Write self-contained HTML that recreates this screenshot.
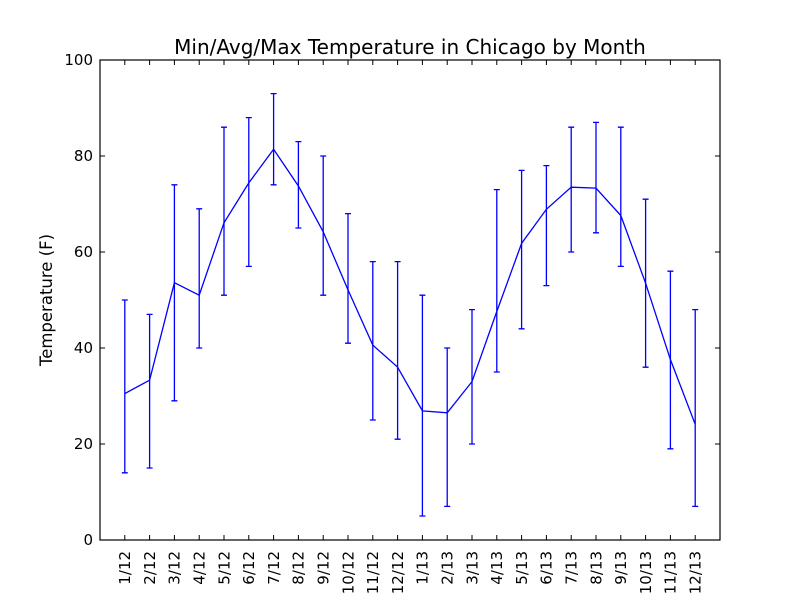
<!DOCTYPE html>
<html>
<head>
<meta charset="utf-8">
<style>
html,body{margin:0;padding:0;background:#fff;}
svg{display:block;}
text{font-family:"DejaVu Sans","Liberation Sans",sans-serif;fill:#000;}
</style>
</head>
<body>
<svg width="800" height="600" viewBox="0 0 800 600" xmlns="http://www.w3.org/2000/svg">
<rect x="0" y="0" width="800" height="600" fill="#fff"/>
<text x="410" y="54" font-size="20" text-anchor="middle">Min/Avg/Max Temperature in Chicago by Month</text>

<!-- error bars -->
<g stroke="#0000ff" stroke-width="1.3" fill="none">
<path d="M124.8 472.8V300M121.8 472.8h6M121.8 300h6"/>
<path d="M149.6 468V314.4M146.6 468h6M146.6 314.4h6"/>
<path d="M174.4 400.8V184.8M171.4 400.8h6M171.4 184.8h6"/>
<path d="M199.2 348V208.8M196.2 348h6M196.2 208.8h6"/>
<path d="M224 295.2V127.2M221 295.2h6M221 127.2h6"/>
<path d="M248.8 266.4V117.6M245.8 266.4h6M245.8 117.6h6"/>
<path d="M273.6 184.8V93.6M270.6 184.8h6M270.6 93.6h6"/>
<path d="M298.4 228V141.6M295.4 228h6M295.4 141.6h6"/>
<path d="M323.2 295.2V156M320.2 295.2h6M320.2 156h6"/>
<path d="M348 343.2V213.6M345 343.2h6M345 213.6h6"/>
<path d="M372.8 420V261.6M369.8 420h6M369.8 261.6h6"/>
<path d="M397.6 439.2V261.6M394.6 439.2h6M394.6 261.6h6"/>
<path d="M422.4 516V295.2M419.4 516h6M419.4 295.2h6"/>
<path d="M447.2 506.4V348M444.2 506.4h6M444.2 348h6"/>
<path d="M472 444V309.6M469 444h6M469 309.6h6"/>
<path d="M496.8 372V189.6M493.8 372h6M493.8 189.6h6"/>
<path d="M521.6 328.8V170.4M518.6 328.8h6M518.6 170.4h6"/>
<path d="M546.4 285.6V165.6M543.4 285.6h6M543.4 165.6h6"/>
<path d="M571.2 252V127.2M568.2 252h6M568.2 127.2h6"/>
<path d="M596 232.8V122.4M593 232.8h6M593 122.4h6"/>
<path d="M620.8 266.4V127.2M617.8 266.4h6M617.8 127.2h6"/>
<path d="M645.6 367.2V199.2M642.6 367.2h6M642.6 199.2h6"/>
<path d="M670.4 448.8V271.2M667.4 448.8h6M667.4 271.2h6"/>
<path d="M695.2 506.4V309.6M692.2 506.4h6M692.2 309.6h6"/>
</g>
<polyline fill="none" stroke="#0000ff" stroke-width="1.3" points="124.8,393.6 149.6,380.16 174.4,282.72 199.2,295.2 224,222.72 248.8,182.88 273.6,149.28 298.4,186 323.2,231.84 348,289.92 372.8,345.12 397.6,367.2 422.4,410.88 447.2,412.8 472,381.6 496.8,311.52 521.6,243.36 546.4,209.28 571.2,187.2 596,188.16 620.8,215.52 645.6,283.2 670.4,359.52 695.2,424.32"/>

<!-- frame -->
<rect x="100" y="60" width="620" height="480" fill="none" stroke="#000" stroke-width="1.2"/>

<!-- ticks -->
<g stroke="#000" stroke-width="1">
<path d="M124.8 540v-5M149.6 540v-5M174.4 540v-5M199.2 540v-5M224 540v-5M248.8 540v-5M273.6 540v-5M298.4 540v-5M323.2 540v-5M348 540v-5M372.8 540v-5M397.6 540v-5M422.4 540v-5M447.2 540v-5M472 540v-5M496.8 540v-5M521.6 540v-5M546.4 540v-5M571.2 540v-5M596 540v-5M620.8 540v-5M645.6 540v-5M670.4 540v-5M695.2 540v-5"/>
<path d="M124.8 60v5M149.6 60v5M174.4 60v5M199.2 60v5M224 60v5M248.8 60v5M273.6 60v5M298.4 60v5M323.2 60v5M348 60v5M372.8 60v5M397.6 60v5M422.4 60v5M447.2 60v5M472 60v5M496.8 60v5M521.6 60v5M546.4 60v5M571.2 60v5M596 60v5M620.8 60v5M645.6 60v5M670.4 60v5M695.2 60v5"/>
<path d="M100 444h5M100 348h5M100 252h5M100 156h5M720 444h-5M720 348h-5M720 252h-5M720 156h-5"/>
</g>

<!-- y tick labels -->
<g font-size="15" text-anchor="end">
<text x="93" y="545">0</text>
<text x="93" y="449">20</text>
<text x="93" y="353">40</text>
<text x="93" y="257">60</text>
<text x="93" y="161">80</text>
<text x="93" y="65">100</text>
</g>

<!-- x tick labels -->
<g font-size="15" text-anchor="end">
<text transform="translate(130.1,551) rotate(-90)">1/12</text>
<text transform="translate(154.9,551) rotate(-90)">2/12</text>
<text transform="translate(179.7,551) rotate(-90)">3/12</text>
<text transform="translate(204.5,551) rotate(-90)">4/12</text>
<text transform="translate(229.3,551) rotate(-90)">5/12</text>
<text transform="translate(254.1,551) rotate(-90)">6/12</text>
<text transform="translate(278.9,551) rotate(-90)">7/12</text>
<text transform="translate(303.7,551) rotate(-90)">8/12</text>
<text transform="translate(328.5,551) rotate(-90)">9/12</text>
<text transform="translate(353.3,551) rotate(-90)">10/12</text>
<text transform="translate(378.1,551) rotate(-90)">11/12</text>
<text transform="translate(402.9,551) rotate(-90)">12/12</text>
<text transform="translate(427.7,551) rotate(-90)">1/13</text>
<text transform="translate(452.5,551) rotate(-90)">2/13</text>
<text transform="translate(477.3,551) rotate(-90)">3/13</text>
<text transform="translate(502.1,551) rotate(-90)">4/13</text>
<text transform="translate(526.9,551) rotate(-90)">5/13</text>
<text transform="translate(551.7,551) rotate(-90)">6/13</text>
<text transform="translate(576.5,551) rotate(-90)">7/13</text>
<text transform="translate(601.3,551) rotate(-90)">8/13</text>
<text transform="translate(626.1,551) rotate(-90)">9/13</text>
<text transform="translate(650.9,551) rotate(-90)">10/13</text>
<text transform="translate(675.7,551) rotate(-90)">11/13</text>
<text transform="translate(700.5,551) rotate(-90)">12/13</text>
</g>

<text transform="translate(52,300) rotate(-90)" font-size="16.5" text-anchor="middle">Temperature (F)</text>
</svg>
</body>
</html>
